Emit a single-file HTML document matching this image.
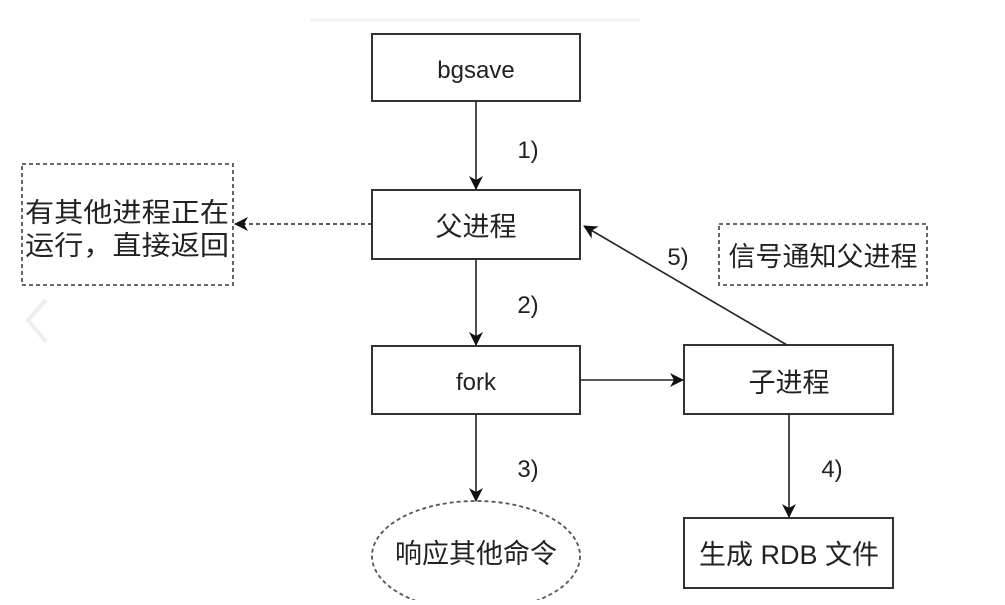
<!DOCTYPE html>
<html><head><meta charset="utf-8"><style>
body{margin:0;background:#fff;}
svg text{font-family:"Liberation Sans","Noto Sans CJK SC",sans-serif;fill:#222;}
</style></head><body>
<svg width="1005" height="600" xmlns="http://www.w3.org/2000/svg">
<defs><marker id="a" viewBox="0 0 14 14" refX="13" refY="7" markerWidth="14" markerHeight="14" markerUnits="userSpaceOnUse" orient="auto"><path d="M0,0 L14,7 L0,14 L4,7 z" fill="#111"/></marker></defs>
<line x1="310" y1="20" x2="640" y2="20" stroke="#f4f4f4" stroke-width="3"/>
<path d="M46,300 L28,320 L46,342" fill="none" stroke="#eeeeee" stroke-width="4"/>
<g stroke="#333" stroke-width="2" fill="#fff">
<rect x="372" y="34" width="208" height="67"/>
<rect x="372" y="190" width="208" height="69"/>
<rect x="372" y="346" width="208" height="68"/>
<rect x="684" y="345" width="209" height="69"/>
<rect x="684" y="518" width="209" height="70"/>
</g>
<g stroke="#555" stroke-width="1.8" fill="none" stroke-dasharray="4,3">
<rect x="22" y="164" width="211" height="121"/>
<rect x="719" y="224" width="208" height="61"/>
<ellipse cx="476" cy="556" rx="104" ry="55"/>
</g>
<g stroke="#222" stroke-width="1.6" fill="none">
<line x1="476" y1="101" x2="476" y2="189" marker-end="url(#a)"/>
<line x1="476" y1="259" x2="476" y2="345" marker-end="url(#a)"/>
<line x1="476" y1="414" x2="476" y2="501" marker-end="url(#a)"/>
<line x1="580" y1="380" x2="683" y2="380" marker-end="url(#a)"/>
<line x1="789" y1="414" x2="789" y2="517" marker-end="url(#a)"/>
<line x1="787" y1="345" x2="584" y2="226" marker-end="url(#a)"/>
<line x1="372" y1="224" x2="235" y2="224" stroke-dasharray="4,3" marker-end="url(#a)"/>
</g>
<g font-size="27" text-anchor="middle">
<text x="476" y="236">父进程</text>
<text x="789" y="392">子进程</text>
<text x="789" y="564">生成 RDB 文件</text>
<text x="476" y="563">响应其他命令</text>
<text x="823" y="266">信号通知父进程</text>
<text x="127" y="222" textLength="204" lengthAdjust="spacingAndGlyphs">有其他进程正在</text>
<text x="127" y="255" textLength="204" lengthAdjust="spacingAndGlyphs">运行，直接返回</text>
</g>
<g font-size="24" text-anchor="middle">
<text x="476" y="78">bgsave</text>
<text x="476" y="390">fork</text>
<text x="528" y="158">1)</text>
<text x="528" y="313">2)</text>
<text x="528" y="477">3)</text>
<text x="832" y="477">4)</text>
<text x="678" y="265">5)</text>
</g>
</svg>
</body></html>
